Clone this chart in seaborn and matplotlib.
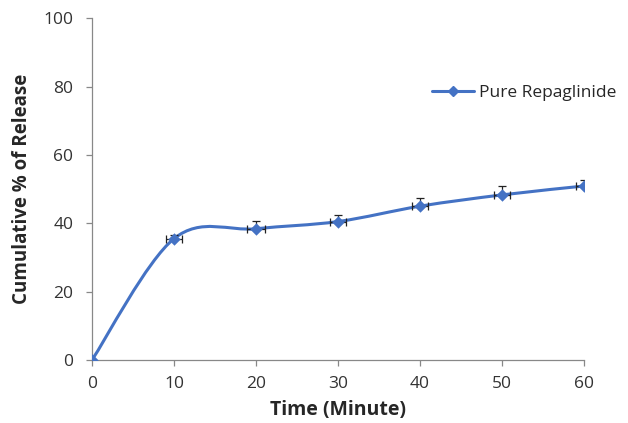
import numpy as np
import matplotlib
matplotlib.use("Agg")
import matplotlib.pyplot as plt
from matplotlib.path import Path
from matplotlib.patches import PathPatch
from matplotlib.lines import Line2D
import seaborn as sns

time_min = [0, 10, 20, 30, 40, 50, 60]
release = [0.0, 35.5, 38.4, 40.5, 45.0, 48.3, 50.9]
release_err = [0.0, 1.0, 2.4, 1.8, 2.3, 2.6, 1.7]
time_err = [0.0, 1.0, 1.1, 1.0, 1.0, 1.0, 1.0]
series_name = "Pure Repaglinide"

BLUE = "#4472C4"


def smooth_path(xs, ys):
    # Excel-style smoothed line: cubic bezier segments with catmull-rom handles
    pts = np.column_stack([xs, ys]).astype(float)
    n = len(pts)
    verts = [pts[0]]
    codes = [Path.MOVETO]
    for i in range(n - 1):
        p0 = pts[i - 1] if i > 0 else pts[i]
        p1 = pts[i]
        p2 = pts[i + 1]
        p3 = pts[i + 2] if i + 2 < n else pts[i + 1]
        c1 = p1 + (p2 - p0) / 6.0
        c2 = p2 - (p3 - p1) / 6.0
        verts += [c1, c2, p2]
        codes += [Path.CURVE4] * 3
    return Path(verts, codes)


def main():
    sns.set_style("ticks")
    plt.rcParams["font.family"] = ["Open Sans", "DejaVu Sans"]

    fig = plt.figure(figsize=(6.28, 4.23), dpi=100)
    ax = fig.add_axes([0.1465, 0.149, 0.7835, 0.808])

    ax.add_patch(PathPatch(smooth_path(time_min, release), facecolor="none",
                           edgecolor=BLUE, lw=2.2, zorder=2))
    # y error bars only in the plus direction, x error bars both ways
    zeros = [0.0] * len(release_err)
    ax.errorbar(time_min, release, yerr=[zeros, release_err], xerr=time_err,
                fmt="none", ecolor="#222222", elinewidth=0.9, capsize=3,
                capthick=0.9, zorder=3)
    sns.scatterplot(x=time_min, y=release, marker="D", s=40, color=BLUE,
                    edgecolor=BLUE, linewidth=0, zorder=4, ax=ax, legend=False)

    ax.set_xlim(0, 60)
    ax.set_ylim(0, 100)
    ax.set_xticks(range(0, 61, 10))
    ax.set_yticks(range(0, 101, 20))
    ax.tick_params(axis="both", labelsize=12.5, colors="#888888",
                   labelcolor="#333333", length=4.5, width=0.9)
    ax.tick_params(axis="y", pad=9)
    ax.tick_params(axis="x", pad=7)
    for side in ("top", "right"):
        ax.spines[side].set_visible(False)
    for side in ("left", "bottom"):
        ax.spines[side].set_color("#888888")
        ax.spines[side].set_linewidth(0.9)

    ax.set_xlabel("Time (Minute)", fontsize=14, fontweight="bold", labelpad=6)
    ax.set_ylabel("Cumulative % of Release", fontsize=13.5, fontweight="bold",
                  labelpad=8)

    handle = Line2D([], [], color=BLUE, lw=2.2, marker="D", markersize=5)
    ax.legend([handle], [series_name], loc="center left",
              bbox_to_anchor=(0.66, 0.78), frameon=False, fontsize=12.5,
              handlelength=2.4, handletextpad=0.3)

    fig.savefig("out.png", dpi=100)


if __name__ == "__main__":
    main()
